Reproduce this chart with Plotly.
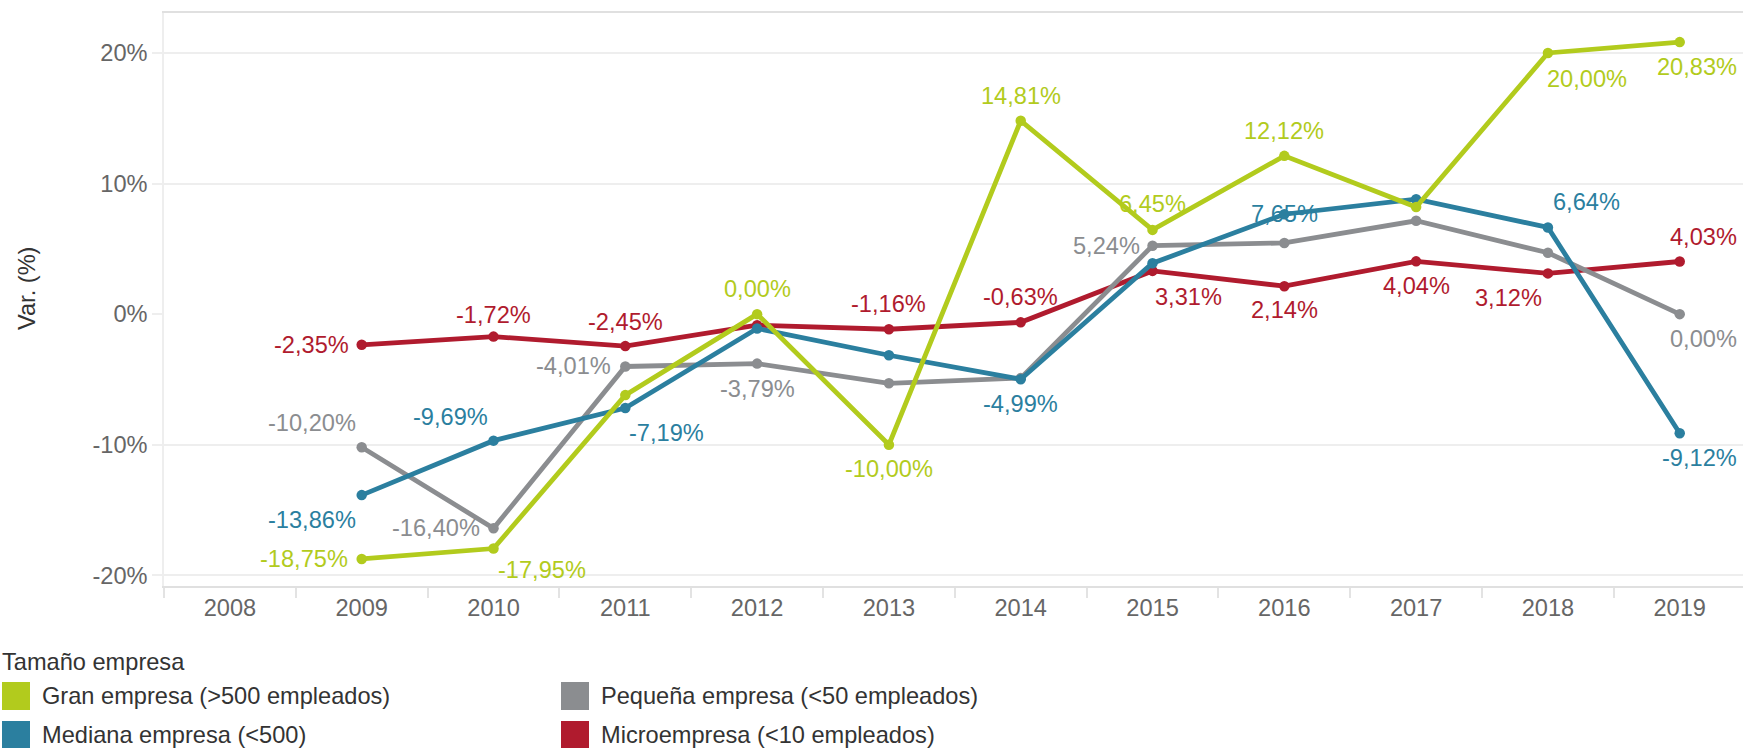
import plotly.graph_objects as go

# ---------------- data ----------------
years = [2008, 2009, 2010, 2011, 2012, 2013, 2014, 2015, 2016, 2017, 2018, 2019]
year_labels = [str(y) for y in years]

gran = [None, -18.75, -17.95, -6.2, 0.00, -10.00, 14.81, 6.45, 12.12, 8.2, 20.00, 20.83]
mediana = [None, -13.86, -9.69, -7.19, -1.1, -3.15, -4.99, 3.9, 7.65, 8.8, 6.64, -9.12]
pequena = [None, -10.20, -16.40, -4.01, -3.79, -5.3, -4.9, 5.24, 5.45, 7.15, 4.7, 0.00]
micro = [None, -2.35, -1.72, -2.45, -0.85, -1.16, -0.63, 3.31, 2.14, 4.04, 3.12, 4.03]

series_names = [
    "Gran empresa (>500 empleados)",
    "Mediana empresa (<500)",
    "Pequeña empresa (<50 empleados)",
    "Microempresa (<10 empleados)",
]
legend_title = "Tamaño empresa"
y_title = "Var. (%)"
y_tickvals = [-20, -10, 0, 10, 20]
y_ticktext = ["-20%", "-10%", "0%", "10%", "20%"]

# ---------------- style ----------------
FONT = "Liberation Sans, Arial, sans-serif"
FS = 23.6
colors = {
    "gran": "#b2cb1d",
    "mediana": "#2b7f9f",
    "pequena": "#8b8d90",
    "micro": "#b01b2e",
}
series = {
    "gran": (series_names[0], gran),
    "mediana": (series_names[1], mediana),
    "pequena": (series_names[2], pequena),
    "micro": (series_names[3], micro),
}

# label placement per (series, year): (xanchor, xshift, yshift)
R_EDGE = 59
label_pos = {
    "gran": {2009: ("right", -12, 0), 2010: ("left", 2, -21), 2012: ("center", 0, 25),
             2013: ("center", 0, -24), 2014: ("center", 0, 25), 2015: ("center", 0, 26),
             2016: ("center", 0, 25), 2018: ("left", -3, -26), 2019: ("right", R_EDGE, -25)},
    "mediana": {2009: ("right", -4, -25), 2010: ("right", -4, 24), 2011: ("left", 2, -25),
                2014: ("center", 0, -25), 2016: ("center", 0, 0), 2018: ("left", 3, 25),
                2019: ("right", R_EDGE, -25)},
    "pequena": {2009: ("right", -4, 24), 2010: ("right", -12, 0), 2011: ("right", -12, 0),
                2012: ("center", 0, -25), 2015: ("right", -11, 0), 2019: ("right", R_EDGE, -25)},
    "micro": {2009: ("right", -11, 0), 2010: ("center", 0, 22), 2011: ("center", 0, 24),
              2013: ("center", 0, 25), 2014: ("center", 0, 25), 2015: ("left", 0, -26),
              2016: ("center", 0, -24), 2017: ("center", 0, -25), 2018: ("right", -4, -25),
              2019: ("right", R_EDGE, 25)},
}

W, H = 1743, 748
ML, MR, MT, MB = 164, 0, 13, 162
PW, PH = W - ML - MR, H - MT - MB


def px_x(px):
    return (px - ML) / PW


def px_y(py):
    return (H - MB - py) / PH


def fmt(v):
    return f"{v:.2f}".replace(".", ",") + "%"


fig = go.Figure()

draw_order = ["micro", "pequena", "mediana", "gran"]
for key in draw_order:
    name, vals = series[key]
    fig.add_trace(go.Scatter(
        x=years, y=vals, name=name, mode="lines+markers",
        line=dict(color=colors[key], width=4.8),
        marker=dict(color=colors[key], size=10.5),
        cliponaxis=False, showlegend=False, connectgaps=False,
    ))

annotations = []
for key in draw_order:
    name, vals = series[key]
    for yr, v in zip(years, vals):
        if v is None or yr not in label_pos[key]:
            continue
        xa, xs, ys = label_pos[key][yr]
        annotations.append(dict(
            x=yr, y=v, xref="x", yref="y", text=fmt(v), showarrow=False,
            xanchor=xa, yanchor="middle", xshift=xs, yshift=ys,
            font=dict(family=FONT, size=FS, color=colors[key]),
        ))

# y axis title
annotations.append(dict(
    x=px_x(27), y=px_y(289), xref="paper", yref="paper", text=y_title,
    showarrow=False, textangle=-90, xanchor="center", yanchor="middle",
    font=dict(family=FONT, size=FS, color="#333333"),
))

# legend (manual)
annotations.append(dict(
    x=px_x(0), y=px_y(662), xref="paper", yref="paper", text=legend_title,
    showarrow=False, xanchor="left", yanchor="middle",
    font=dict(family=FONT, size=FS, color="#333333"),
))
legend_layout = [
    ("gran", 2, 40, 696),
    ("pequena", 561, 599, 696),
    ("mediana", 2, 40, 735),
    ("micro", 561, 599, 735),
]
shapes = []
for key, sx, tx, cy in legend_layout:
    shapes.append(dict(
        type="rect", xref="paper", yref="paper",
        x0=px_x(sx), x1=px_x(sx + 28), y0=px_y(cy - 14), y1=px_y(cy + 14),
        fillcolor=colors[key], line=dict(width=0),
    ))
    annotations.append(dict(
        x=px_x(tx), y=px_y(cy), xref="paper", yref="paper", text=series[key][0],
        showarrow=False, xanchor="left", yanchor="middle",
        font=dict(family=FONT, size=FS, color="#333333"),
    ))

# dotted zero line
shapes.append(dict(
    type="line", xref="paper", yref="y", x0=0, x1=1, y0=0, y1=0,
    line=dict(color="#bdbdbd", width=1.5, dash="dot"), layer="between",
))

fig.update_layout(
    width=W, height=H,
    margin=dict(l=ML, r=MR, t=MT, b=MB, pad=0),
    paper_bgcolor="white", plot_bgcolor="white",
    font=dict(family=FONT, size=FS, color="#666666"),
    showlegend=False,
    annotations=annotations,
    shapes=shapes,
    xaxis=dict(
        range=[2007.5, 2019.48], tickmode="array", tickvals=years, ticktext=year_labels,
        showgrid=False, zeroline=False, showline=True, linecolor="#e0e0e0", linewidth=2,
        mirror=True, ticks="", ticklabelstandoff=0, automargin=False,
        tickfont=dict(family=FONT, size=FS, color="#666666"),
        minor=dict(tickmode="array", tickvals=[y - 0.5 for y in years] + [years[-1] + 0.5],
                   ticks="outside", ticklen=10, tickcolor="#e3e3e3", tickwidth=1.5,
                   showgrid=False),
    ),
    yaxis=dict(
        range=[-20.82, 23.06], tickmode="array", tickvals=y_tickvals, ticktext=y_ticktext,
        showgrid=True, gridcolor="#eeeeee", gridwidth=1.5,
        zeroline=True, zerolinecolor="white", zerolinewidth=2,
        showline=True, linecolor="#eeeeee", linewidth=1.5,
        ticks="outside", ticklen=10, tickcolor="#eeeeee", tickwidth=1.5,
        ticklabelstandoff=0, automargin=False,
        tickfont=dict(family=FONT, size=FS, color="#666666"),
    ),
)

fig.write_html(
    "out.html",
    config={"displayModeBar": False},
    post_script="document.body.style.margin='0';document.body.style.overflow='hidden';",
)
